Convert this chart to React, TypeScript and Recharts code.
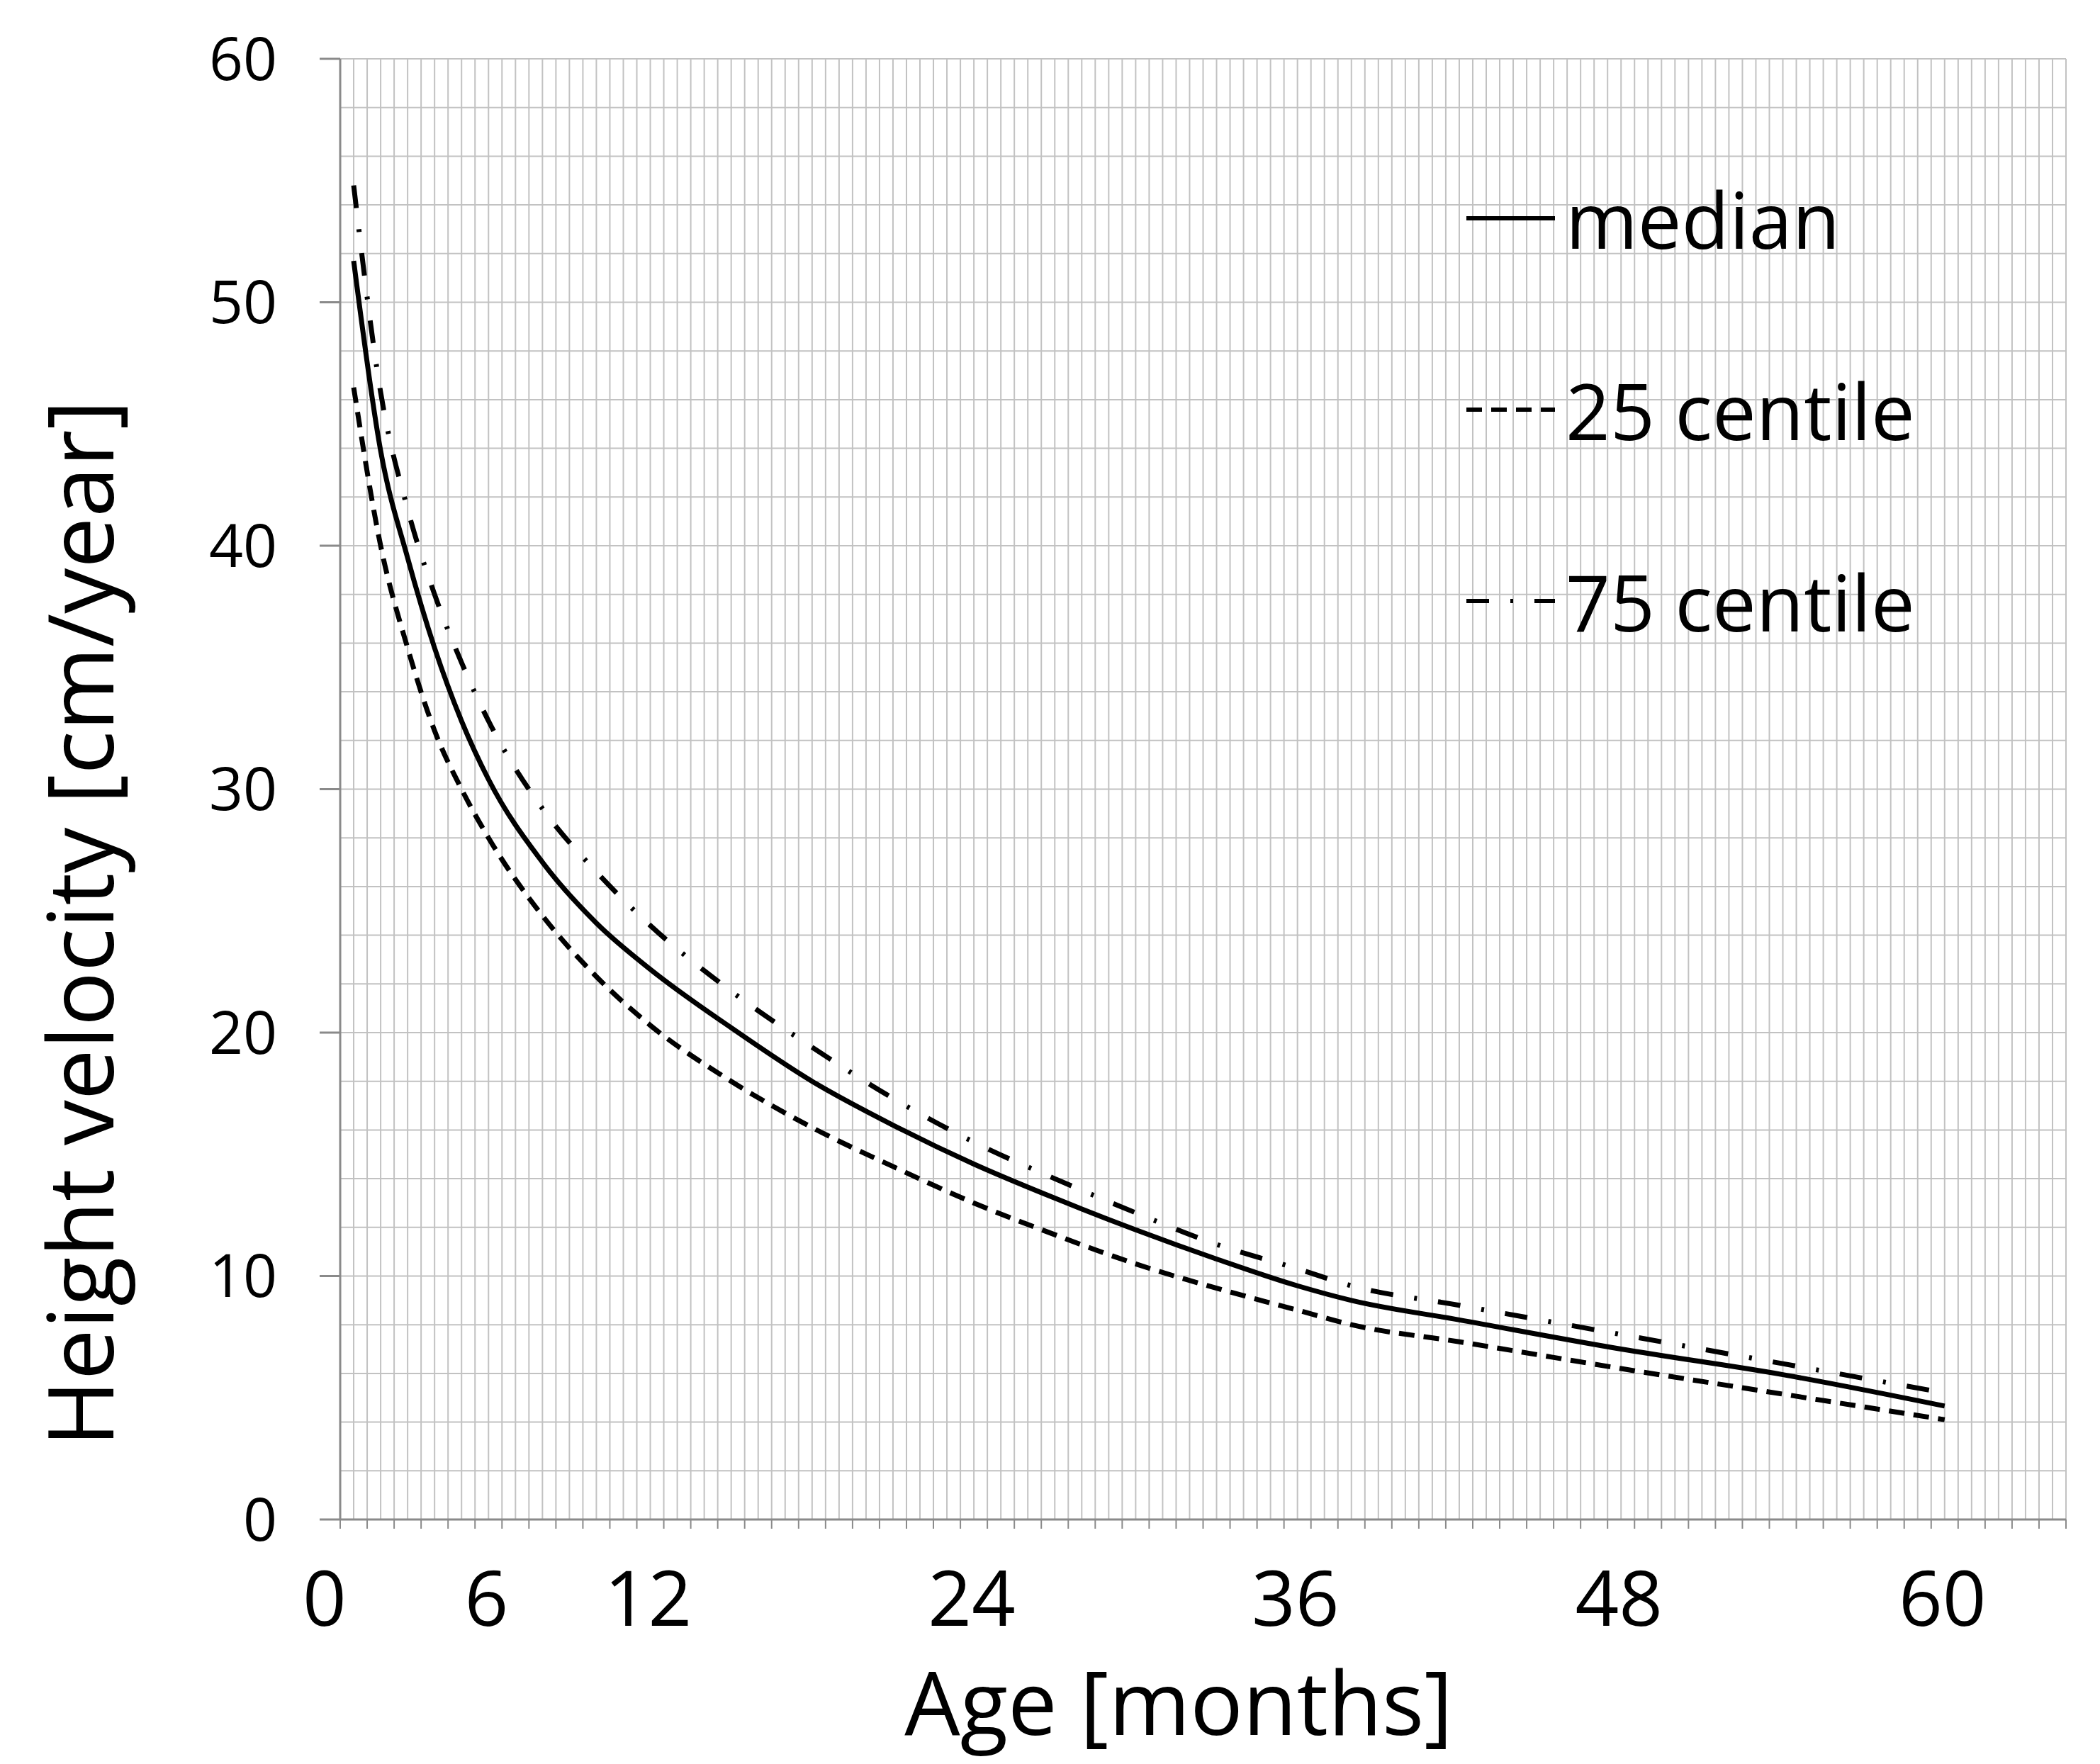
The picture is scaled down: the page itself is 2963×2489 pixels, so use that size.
import React from 'react';
import { LineChart, Line, XAxis, YAxis, CartesianGrid, Legend } from 'recharts';

const FONT = '"Open Sans", "Noto Sans", sans-serif';

// age [months] at which the curves were read
const ages = [1, 2, 3, 4, 5, 6, 8, 10, 12, 15, 18, 21, 24, 27, 30, 33, 36, 38, 42, 48, 54, 60];
// height velocity [cm/year]
const median = [51.7, 43.9, 39.5, 35.8, 32.8, 30.4, 27.0, 24.5, 22.6, 20.2, 18.0, 16.2, 14.6, 13.2, 11.9, 10.7, 9.6, 9.0, 8.2, 7.0, 5.95, 4.66];
const centile25 = [46.5, 40.0, 35.8, 32.4, 30.0, 28.0, 24.8, 22.3, 20.3, 18.0, 16.1, 14.5, 13.0, 11.7, 10.5, 9.5, 8.6, 8.0, 7.3, 6.2, 5.15, 4.1];
const centile75 = [54.8, 46.3, 41.5, 38.0, 35.2, 32.8, 29.2, 26.6, 24.4, 21.7, 19.4, 17.3, 15.5, 14.0, 12.6, 11.3, 10.3, 9.6, 8.8, 7.6, 6.4, 5.2];

const xLabels = [0, 6, 12, 24, 36, 48, 60];
const yTicks = [0, 10, 20, 30, 40, 50, 60];

const series = [
  { key: 'median', name: 'median', dash: undefined as string | undefined },
  { key: 'p25', name: '25 centile', dash: '22 13' },
  { key: 'p75', name: '75 centile', dash: '32 30 4 30' },
];

// axis runs over 64 month slots; each age sits in the middle of its slot (excel category style)
const xTicks = Array.from({ length: 65 }, (_, i) => i);
const xGridTicks = Array.from({ length: 129 }, (_, i) => i / 2);
const yGridTicks = Array.from({ length: 31 }, (_, i) => i * 2);

const data = ages.map((a, i) => ({
  x: a - 0.5,
  median: median[i],
  p25: centile25[i],
  p75: centile75[i],
}));

const XTick = ({ x, y, payload }: any) => {
  if (!xLabels.includes(payload.value)) return <g />;
  return (
    <text x={x - 22} y={y} dy="0.71em" textAnchor="middle" fontSize={108} fontFamily={FONT} fill="#000">
      {payload.value}
    </text>
  );
};

const YTitle = () => (
  <text x={160} y={1303} transform="rotate(-90 160 1303)" textAnchor="middle" fontSize={128} fontFamily={FONT} fill="#000">
    Height velocity [cm/year]
  </text>
);

const XTitle = () => (
  <text x={1663} y={2448} textAnchor="middle" fontSize={124} fontFamily={FONT} fill="#000">
    Age [months]
  </text>
);

const LegendBox = () => (
  <div style={{ fontFamily: FONT, fontSize: 110, color: '#000' }}>
    {series.map((s) => (
      <div key={s.key} style={{ height: 270, display: 'flex', alignItems: 'center' }}>
        <svg width={125} height={12} style={{ marginRight: 15, flex: 'none' }}>
          <line x1={0} y1={6} x2={125} y2={6} stroke="#000" strokeWidth={6} strokeDasharray={s.dash} />
        </svg>
        <span style={{ lineHeight: '132px', whiteSpace: 'nowrap' }}>{s.name}</span>
      </div>
    ))}
  </div>
);

export default function App() {
  return (
    <div style={{ position: 'absolute', left: 0, top: 0, width: 2963, height: 2489, background: '#fff' }}>
      <LineChart width={2963} height={2489} data={data} margin={{ top: 83, right: 48, left: 180, bottom: 195 }}>
        <XAxis xAxisId="gx" type="number" dataKey="x" domain={[0, 64]} ticks={xGridTicks} interval={0} hide />
        <YAxis
          yAxisId="gy"
          type="number"
          dataKey="median"
          domain={[0, 60]}
          allowDataOverflow
          ticks={yGridTicks}
          interval={0}
          hide
        />
        <CartesianGrid xAxisId="gx" yAxisId="gy" stroke="#c2c2c2" strokeWidth={2} />
        <XAxis
          type="number"
          dataKey="x"
          domain={[0, 64]}
          ticks={xTicks}
          interval={0}
          height={150}
          tickSize={13}
          tickMargin={60}
          tick={<XTick />}
          axisLine={{ stroke: '#8a8a8a', strokeWidth: 3 }}
          tickLine={{ stroke: '#8a8a8a', strokeWidth: 2 }}
          label={<XTitle />}
        />
        <YAxis
          type="number"
          domain={[0, 60]}
          ticks={yTicks}
          interval={0}
          width={300}
          tickSize={29}
          tickMargin={60}
          tick={{ fontSize: 84, fill: '#000', fontFamily: FONT }}
          axisLine={{ stroke: '#8a8a8a', strokeWidth: 3 }}
          tickLine={{ stroke: '#8a8a8a', strokeWidth: 3 }}
          label={<YTitle />}
        />
        {series.map((s) => (
          <Line
            key={s.key}
            dataKey={s.key}
            name={s.name}
            type="monotone"
            stroke="#000"
            strokeWidth={7}
            strokeDasharray={s.dash}
            dot={false}
            activeDot={false}
            isAnimationActive={false}
          />
        ))}
        <Legend
          layout="vertical"
          align="center"
          verticalAlign="middle"
          wrapperStyle={{ left: 2069, top: 173, width: 'auto', height: 'auto' }}
          content={<LegendBox />}
        />
      </LineChart>
    </div>
  );
}
